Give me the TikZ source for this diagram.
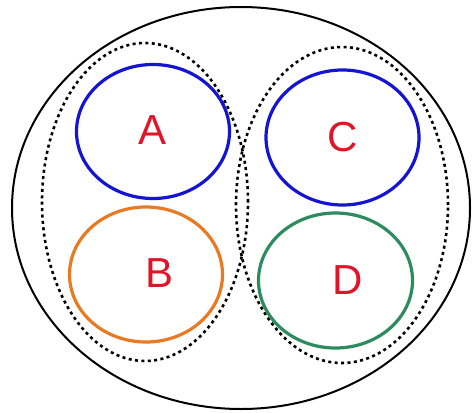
\documentclass[tikz,border=0pt]{standalone}
\usepackage{fontspec}
\setmainfont{Liberation Sans}
\usetikzlibrary{shapes.geometric}
\definecolor{setblue}{RGB}{20,20,210}
\definecolor{setorange}{RGB}{232,122,35}
\definecolor{setgreen}{RGB}{45,140,95}
\definecolor{setred}{RGB}{225,20,40}
\begin{document}
\begin{tikzpicture}[x=1pt,y=-1pt,
  ring/.style={ellipse,draw,inner sep=0pt,line width=#1},
  outerring/.style={ring=2pt,draw=black},
  groupring/.style={ring=2.6pt,draw=black,dash pattern=on 3pt off 3.4pt},
  setring/.style={ring=3.2pt,draw=#1},
  setlabel/.style={text=setred,font=\fontsize{42}{42}\selectfont,inner sep=0pt}]
\useasboundingbox (0,0) rectangle (473,412);
\node[outerring,minimum width=458pt,minimum height=402pt] (outer) at (241,208) {};
\node[groupring,minimum width=206pt,minimum height=318pt] (left) at (145,202) {};
\node[groupring,minimum width=212pt,minimum height=316pt] (right) at (342,205) {};
\node[setring=setblue,minimum width=153pt,minimum height=134pt] (A) at (153,131.5) {};
\node[setring=setblue,minimum width=153pt,minimum height=135pt] (C) at (342.5,137.5) {};
\node[setring=setorange,minimum width=153pt,minimum height=135pt] (B) at (146,274.5) {};
\node[setring=setgreen,minimum width=154pt,minimum height=135pt] (D) at (335.5,280.5) {};
\node[setlabel] (lA) at (153,130) {A};
\node[setlabel] (lC) at (343,137) {C};
\node[setlabel] (lB) at (160,273) {B};
\node[setlabel] (lD) at (348,280) {D};
\end{tikzpicture}
\end{document}
